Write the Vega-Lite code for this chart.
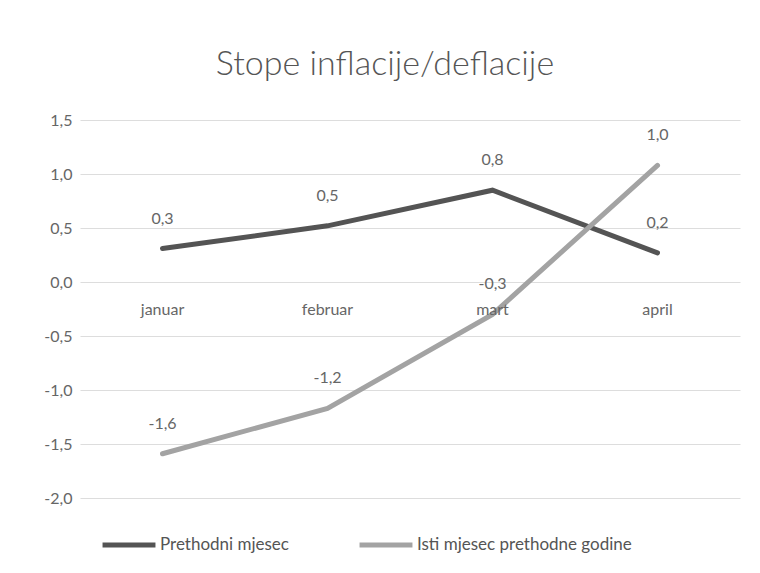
{
  "$schema": "https://vega.github.io/schema/vega-lite/v6.json",
  "width": 660,
  "height": 378,
  "autosize": "none",
  "padding": {"left": 80, "top": 120, "right": 20, "bottom": 75},
  "background": "white",
  "config": {"view": {"stroke": null}},
  "title": {
    "text": "Stope inflacije/deflacije",
    "font": "Lato",
    "fontSize": 34,
    "fontWeight": 300,
    "color": "#555555",
    "anchor": "middle",
    "offset": 30,
    "dx": -25
  },
  "data": {
    "values": [
      {"month": "januar", "series": "Prethodni mjesec", "value": 0.31, "label": "0,3"},
      {"month": "februar", "series": "Prethodni mjesec", "value": 0.52, "label": "0,5"},
      {"month": "mart", "series": "Prethodni mjesec", "value": 0.85, "label": "0,8"},
      {"month": "april", "series": "Prethodni mjesec", "value": 0.27, "label": "0,2"},
      {"month": "januar", "series": "Isti mjesec prethodne godine", "value": -1.59, "label": "-1,6"},
      {"month": "februar", "series": "Isti mjesec prethodne godine", "value": -1.17, "label": "-1,2"},
      {"month": "mart", "series": "Isti mjesec prethodne godine", "value": -0.3, "label": "-0,3"},
      {"month": "april", "series": "Isti mjesec prethodne godine", "value": 1.08, "label": "1,0"}
    ]
  },
  "encoding": {
    "x": {
      "field": "month",
      "type": "nominal",
      "sort": ["januar", "februar", "mart", "april"],
      "axis": null
    },
    "y": {
      "field": "value",
      "type": "quantitative",
      "scale": {"domain": [-2, 1.5], "nice": false, "zero": false},
      "axis": {
        "values": [-2, -1.5, -1, -0.5, 0, 0.5, 1, 1.5],
        "labelExpr": "replace(replace(format(datum.value, '.1f'), '.', ','), '\u2212', '-')",
        "title": null,
        "domain": false,
        "ticks": false,
        "labelPadding": 8,
        "labelFont": "Lato",
        "labelFontSize": 16,
        "labelColor": "#666666",
        "gridColor": "#dddddd",
        "gridWidth": 1
      }
    }
  },
  "layer": [
    {
      "mark": {"type": "line", "strokeWidth": 5, "strokeCap": "round"},
      "encoding": {
        "color": {
          "field": "series",
          "type": "nominal",
          "sort": ["Prethodni mjesec", "Isti mjesec prethodne godine"],
          "scale": {"domain": ["Prethodni mjesec", "Isti mjesec prethodne godine"], "range": ["#545454", "#a3a3a3"]},
          "legend": {
            "orient": "none",
            "legendX": 20,
            "legendY": 396,
            "direction": "horizontal",
            "title": null,
            "symbolType": "stroke",
            "symbolSize": 2800,
            "symbolStrokeWidth": 5,
            "labelFont": "Lato",
            "labelFontSize": 17,
            "labelColor": "#555555",
            "labelLimit": 400,
            "labelOffset": 2,
            "columnPadding": 60
          }
        }
      }
    },
    {
      "mark": {"type": "text", "dy": -30, "font": "Lato", "fontSize": 16, "fontWeight": "normal", "color": "#666666"},
      "encoding": {"text": {"field": "label"}}
    },
    {
      "transform": [{"filter": "datum.series === 'Prethodni mjesec'"}],
      "mark": {"type": "text", "dy": 28, "font": "Lato", "fontSize": 16, "fontWeight": "normal", "color": "#666666"},
      "encoding": {
        "y": {"datum": 0},
        "text": {"field": "month"}
      }
    }
  ]
}
